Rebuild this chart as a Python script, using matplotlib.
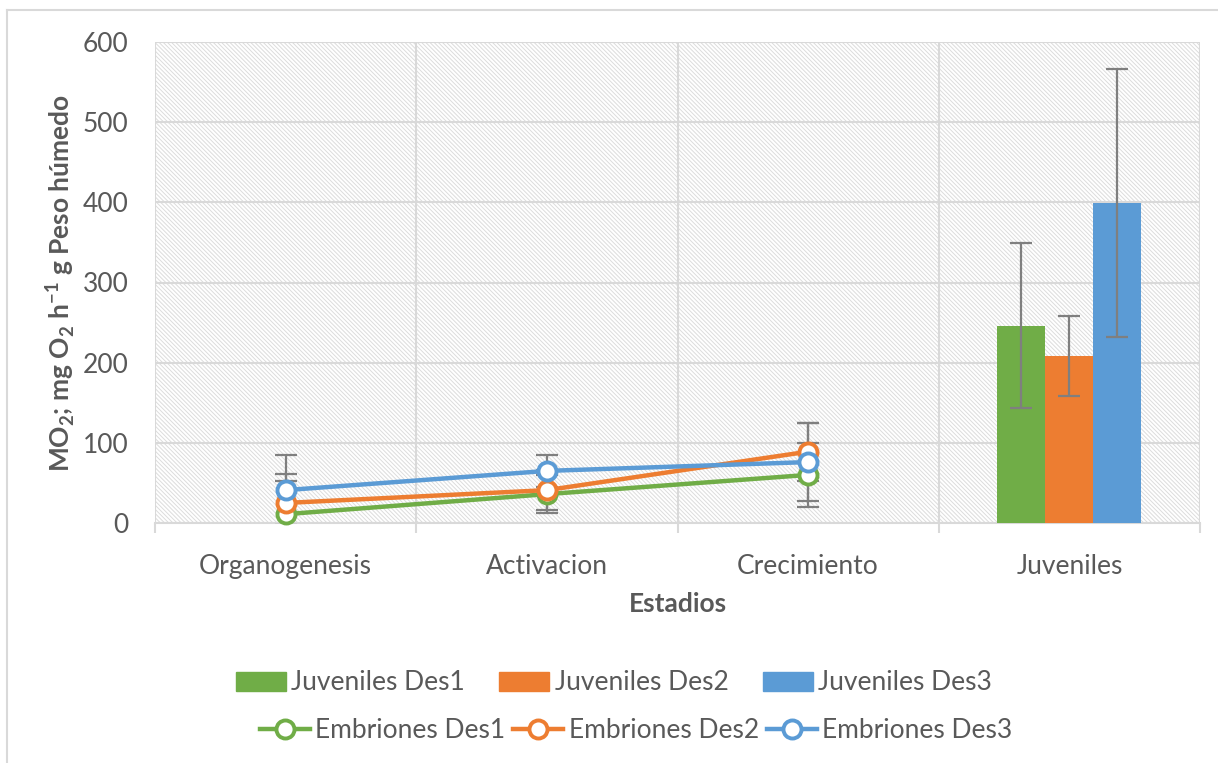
import numpy as np
import matplotlib
matplotlib.use("Agg")
import matplotlib.pyplot as plt
from matplotlib.patches import Rectangle, Patch
from matplotlib.lines import Line2D

plt.rcParams["font.family"] = ["Lato", "DejaVu Sans"]
plt.rcParams["mathtext.fontset"] = "custom"
plt.rcParams["mathtext.rm"] = "Lato"
plt.rcParams["mathtext.bf"] = "Lato:bold"
plt.rcParams["hatch.linewidth"] = 0.7

# data
stages = ["Organogenesis", "Activacion", "Crecimiento", "Juveniles"]
emb_des1 = [11, 36, 60]
emb_des2 = [25, 41, 89]
emb_des3 = [41, 65, 76]
emb_err1 = [42, 24, 40]
emb_err2 = [36, 25, 36]
emb_err3 = [44, 20, 49]
juv_vals = [246, 208, 399]
juv_err = [103, 50, 167]

GREEN, ORANGE, BLUE = "#70AD47", "#ED7D31", "#5B9BD5"
TXT = "#595959"
GRID = "#d9d9d9"
ERR = "#7f7f7f"
FS = 19

fig = plt.figure(figsize=(12.18, 7.63), dpi=100)
ax = fig.add_axes([155 / 1218, 1 - 523 / 763, 1045 / 1218, 481 / 763])

# hatched plot area
ax.add_patch(Rectangle((0, 0), 1, 1, transform=ax.transAxes, facecolor="white",
                       edgecolor="#dcdcdc", hatch="\\" * 8, lw=0, zorder=0))

ax.set_xlim(-0.5, 3.5)
ax.set_ylim(0, 600)
ax.set_yticks(range(0, 601, 100))
ax.set_xticks(range(4))
ax.set_xticklabels(stages)
ax.set_xticks(np.arange(-0.5, 3.6, 1), minor=True)
ax.grid(axis="y", color=GRID, lw=1.5, zorder=1)
ax.grid(axis="x", which="minor", color=GRID, lw=1.5, zorder=1)
ax.tick_params(axis="y", length=0, pad=19, labelsize=FS, labelcolor=TXT)
ax.tick_params(axis="x", which="major", length=0, pad=22, labelsize=FS, labelcolor=TXT)
ax.tick_params(axis="x", which="minor", length=7, width=1.5, color=GRID)
for s in ["top", "right", "left"]:
    ax.spines[s].set_visible(False)
ax.spines["bottom"].set_color(GRID)
ax.spines["bottom"].set_linewidth(1.5)

# juvenile bars
bw = 0.184
bx = [3 - bw, 3, 3 + bw]
ax.bar(bx, juv_vals, width=bw, color=[GREEN, ORANGE, BLUE], zorder=3)
ax.errorbar(bx, juv_vals, yerr=juv_err, fmt="none", ecolor=ERR, elinewidth=1.6,
            capsize=8, capthick=1.6, zorder=4)

# embryo lines
xe = np.arange(3)
for ys, es in [(emb_des1, emb_err1), (emb_des2, emb_err2), (emb_des3, emb_err3)]:
    ax.errorbar(xe, ys, yerr=es, fmt="none", ecolor=ERR, elinewidth=1.6,
                capsize=8, capthick=1.6, zorder=3)
for ys, c in [(emb_des1, GREEN), (emb_des2, ORANGE), (emb_des3, BLUE)]:
    ax.plot(xe, ys, color=c, lw=3.2, marker="o", ms=13, mfc="white", mec=c,
            mew=2.8, zorder=5, clip_on=False)

ax.set_xlabel("Estadios", fontsize=FS, fontweight="bold", color=TXT, labelpad=10)
ax.set_ylabel(r"MO$_\mathbf{2}$; mg O$_\mathbf{2}$ h$^\mathbf{-1}$ g Peso húmedo",
              fontsize=FS, fontweight="bold", color=TXT, labelpad=4)

# legends
bar_h = [Patch(color=c) for c in (GREEN, ORANGE, BLUE)]
bar_l = ["Juveniles Des1", "Juveniles Des2", "Juveniles Des3"]
line_h = [Line2D([], [], color=c, lw=3.2, marker="o", ms=13, mfc="white", mec=c, mew=2.8)
          for c in (GREEN, ORANGE, BLUE)]
line_l = ["Embriones Des1", "Embriones Des2", "Embriones Des3"]
leg1 = fig.legend(bar_h, bar_l, ncol=3, loc="center", bbox_to_anchor=(614 / 1218, 1 - 683 / 763),
                  frameon=False, fontsize=FS, labelcolor=TXT, handlelength=1.9,
                  handleheight=0.7, handletextpad=0.2, columnspacing=1.3)
leg2 = fig.legend(line_h, line_l, ncol=3, loc="center", bbox_to_anchor=(636 / 1218, 1 - 731 / 763),
                  frameon=False, fontsize=FS, labelcolor=TXT, handlelength=1.9,
                  handletextpad=0.2, columnspacing=0.3)

# outer chart border
fig.add_artist(Line2D([7 / 1218, 1], [1 - 10 / 763] * 2, transform=fig.transFigure,
                      color=GRID, lw=1.5))
fig.add_artist(Line2D([7 / 1218] * 2, [0, 1 - 10 / 763], transform=fig.transFigure,
                      color=GRID, lw=1.5))

fig.savefig("out.png", dpi=100, facecolor="white")
